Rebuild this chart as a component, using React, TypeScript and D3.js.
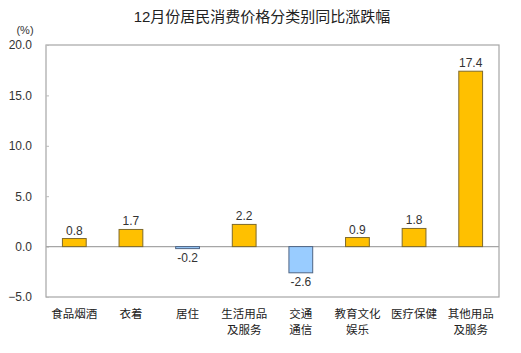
import React, { useEffect, useRef } from 'react'
import * as d3 from 'd3'

const TITLE = '12月份居民消费价格分类别同比涨跌幅'
const categories = [
  ['食品烟酒'],
  ['衣着'],
  ['居住'],
  ['生活用品', '及服务'],
  ['交通', '通信'],
  ['教育文化', '娱乐'],
  ['医疗保健'],
  ['其他用品', '及服务'],
]
const values = [0.8, 1.7, -0.2, 2.2, -2.6, 0.9, 1.8, 17.4]
const yTicks = [-5, 0, 5, 10, 15, 20]

const FONT = '"Liberation Sans", "Noto Sans CJK SC", sans-serif'

export default function App() {
  const svgRef = useRef<SVGSVGElement>(null)

  useEffect(() => {
    const width = 521
    const height = 353
    const margin = { top: 45, right: 22, bottom: 56, left: 46 }

    const svg = d3.select(svgRef.current)
    svg.selectAll('*').remove()
    svg.attr('viewBox', `0 0 ${width} ${height}`)

    const x = d3.scaleBand()
      .domain(categories.map((_, i) => String(i)))
      .range([margin.left, width - margin.right])
      .paddingInner(0.58)
      .paddingOuter(0.29)

    const y = d3.scaleLinear()
      .domain([-5, 20])
      .range([height - margin.bottom, margin.top])

    svg.append('rect')
      .attr('width', width)
      .attr('height', height)
      .attr('fill', '#fff')

    svg.append('text')
      .attr('x', 262)
      .attr('y', 22)
      .attr('text-anchor', 'middle')
      .attr('font-family', FONT)
      .attr('font-size', 15)
      .attr('fill', '#222')
      .text(TITLE)

    svg.append('text')
      .attr('x', 25)
      .attr('y', 34)
      .attr('text-anchor', 'middle')
      .attr('font-family', FONT)
      .attr('font-size', 11)
      .attr('fill', '#333')
      .text('(%)')

    // plot frame
    svg.append('rect')
      .attr('x', margin.left)
      .attr('y', margin.top)
      .attr('width', width - margin.right - margin.left)
      .attr('height', height - margin.bottom - margin.top)
      .attr('fill', 'none')
      .attr('stroke', '#a6a6a6')
      .attr('stroke-width', 1.2)

    const yAxis = svg.append('g')
      .attr('transform', `translate(${margin.left},0)`)
      .call(d3.axisLeft(y).tickValues(yTicks).tickFormat(d3.format('.1f')).tickSize(-3).tickPadding(14))
    yAxis.select('.domain').remove()
    yAxis.selectAll('line').attr('stroke', '#bbb')
    yAxis.selectAll('text')
      .attr('font-family', FONT)
      .attr('font-size', 12)
      .attr('fill', '#333')

    // zero line
    svg.append('line')
      .attr('x1', margin.left)
      .attr('x2', width - margin.right)
      .attr('y1', y(0))
      .attr('y2', y(0))
      .attr('stroke', '#a6a6a6')
      .attr('stroke-width', 1.2)

    svg.selectAll('.bar')
      .data(values)
      .join('rect')
      .attr('class', 'bar')
      .attr('x', (_, i) => x(String(i))!)
      .attr('width', x.bandwidth())
      .attr('y', (d) => y(Math.max(0, d)))
      .attr('height', (d) => Math.abs(y(d) - y(0)))
      .attr('fill', (d) => (d >= 0 ? '#FFC000' : '#99CCFF'))
      .attr('stroke', (d) => (d >= 0 ? '#7f6a2a' : '#4f6584'))
      .attr('stroke-width', 1)

    svg.selectAll('.val')
      .data(values)
      .join('text')
      .attr('class', 'val')
      .attr('x', (_, i) => x(String(i))! + x.bandwidth() / 2)
      .attr('y', (d) => (d >= 0 ? y(d) - 4 : y(d) + 13))
      .attr('text-anchor', 'middle')
      .attr('font-family', FONT)
      .attr('font-size', 12)
      .attr('fill', '#333')
      .text((d) => d.toFixed(1))

    categories.forEach((lines, i) => {
      const cx = x(String(i))! + x.bandwidth() / 2
      lines.forEach((line, j) => {
        svg.append('text')
          .attr('x', cx)
          .attr('y', 318 + j * 16)
          .attr('text-anchor', 'middle')
          .attr('font-family', FONT)
          .attr('font-size', 11.5)
          .attr('fill', '#222')
          .text(line)
      })
    })
  }, [])

  return (
    <svg
      ref={svgRef}
      width={521}
      height={353}
      style={{ position: 'absolute', left: 0, top: 0, display: 'block' }}
    />
  )
}
